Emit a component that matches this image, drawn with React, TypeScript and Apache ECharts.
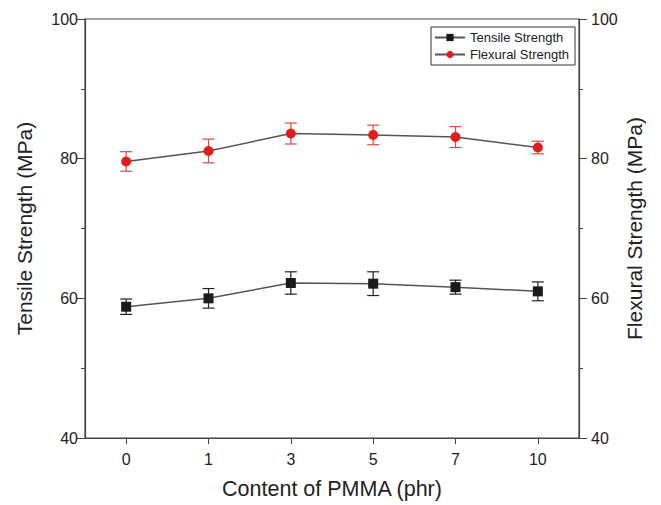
import React, { useEffect, useRef } from "react";
import * as echarts from "echarts";

const categories = ["0", "1", "3", "5", "7", "10"];
const tensile = [58.8, 60.0, 62.2, 62.1, 61.6, 61.0];
const tensileErr = [1.1, 1.4, 1.6, 1.7, 1.0, 1.35];
const flexural = [79.6, 81.1, 83.6, 83.4, 83.1, 81.6];
const flexuralErr = [1.4, 1.7, 1.5, 1.4, 1.5, 0.9];

const FONT = "Liberation Sans, Arial, sans-serif";
const AX = "#444";

function errData(vals: number[], errs: number[]) {
  return vals.map((v, i) => [i, v - errs[i], v + errs[i]]);
}

function errRender(color: string) {
  return (params: any, api: any) => {
    const x = api.value(0);
    const lo = api.value(1);
    const hi = api.value(2);
    const t = api.coord([x, hi]);
    const b = api.coord([x, lo]);
    const w = 6;
    const style = { stroke: color, lineWidth: 1.2 };
    return {
      type: "group",
      children: [
        { type: "line", shape: { x1: t[0], y1: t[1], x2: b[0], y2: b[1] }, style },
        { type: "line", shape: { x1: t[0] - w, y1: t[1], x2: t[0] + w, y2: t[1] }, style },
        { type: "line", shape: { x1: b[0] - w, y1: b[1], x2: b[0] + w, y2: b[1] }, style },
      ],
    };
  };
}

function yAxis(position: "left" | "right", name: string, gap: number, margin: number) {
  return {
    type: "value",
    position,
    min: 40,
    max: 100,
    interval: 20,
    name,
    nameLocation: "middle",
    nameGap: gap,
    nameMoveOverlap: false,
    nameTextStyle: { fontFamily: FONT, fontSize: 21, color: "#222" },
    axisLine: { show: true, lineStyle: { color: AX, width: 1.2 } },
    axisTick: { show: true, inside: false, length: 8, lineStyle: { color: AX } },
    minorTick: { show: true, splitNumber: 2, length: 4, lineStyle: { color: AX } },
    axisLabel: { fontFamily: FONT, fontSize: 16, color: "#222", margin },
    splitLine: { show: false },
  };
}

export default function App() {
  const ref = useRef<HTMLDivElement>(null);
  useEffect(() => {
    if (!ref.current) return;
    const chart = echarts.init(ref.current, null, { renderer: "svg" });
    chart.setOption({
      animation: false,
      backgroundColor: "#fff",
      grid: {
        left: 85,
        right: 82,
        top: 19,
        bottom: 65,
        show: true,
        borderColor: AX,
        borderWidth: 1.2,
        backgroundColor: "transparent",
      },
      legend: {
        data: ["Tensile Strength", "Flexural Strength"],
        orient: "vertical",
        right: 86,
        top: 27,
        itemWidth: 30,
        itemHeight: 9,
        itemGap: 4,
        padding: [4, 6, 4, 3],
        borderColor: "#333",
        borderWidth: 1,
        borderRadius: 0,
        backgroundColor: "#fff",
        textStyle: { fontFamily: FONT, fontSize: 13, color: "#222" },
      },
      xAxis: {
        type: "category",
        data: categories,
        boundaryGap: true,
        name: "Content of PMMA (phr)",
        nameLocation: "middle",
        nameGap: 40,
        nameMoveOverlap: false,
        nameTextStyle: { fontFamily: FONT, fontSize: 21.5, color: "#222" },
        axisLine: { show: true, lineStyle: { color: AX, width: 1.2 } },
        axisTick: { show: true, alignWithLabel: true, inside: false, length: 6, lineStyle: { color: AX } },
        axisLabel: { fontFamily: FONT, fontSize: 16, color: "#222", margin: 13 },
        splitLine: { show: false },
      },
      yAxis: [
        yAxis("left", "Tensile Strength (MPa)", 50, 7),
        yAxis("right", "Flexural Strength (MPa)", 45, 12),
      ],
      series: [
        {
          type: "custom",
          yAxisIndex: 0,
          renderItem: errRender("#222"),
          data: errData(tensile, tensileErr),
          encode: { x: 0, y: [1, 2] },
          z: 1,
          silent: true,
        },
        {
          type: "custom",
          yAxisIndex: 1,
          renderItem: errRender("#e84545"),
          data: errData(flexural, flexuralErr),
          encode: { x: 0, y: [1, 2] },
          z: 1,
          silent: true,
        },
        {
          name: "Tensile Strength",
          type: "line",
          yAxisIndex: 0,
          data: tensile,
          symbol: "rect",
          symbolSize: 10,
          itemStyle: { color: "#1a1a1a" },
          lineStyle: { color: "#555", width: 1.5 },
          z: 3,
        },
        {
          name: "Flexural Strength",
          type: "line",
          yAxisIndex: 1,
          data: flexural,
          symbol: "circle",
          symbolSize: 10,
          itemStyle: { color: "#e21d1d" },
          lineStyle: { color: "#555", width: 1.5 },
          z: 3,
        },
      ],
    });
    return () => chart.dispose();
  }, []);
  return <div ref={ref} style={{ width: 661, height: 505, position: "absolute", left: 0, top: 0 }} />;
}
